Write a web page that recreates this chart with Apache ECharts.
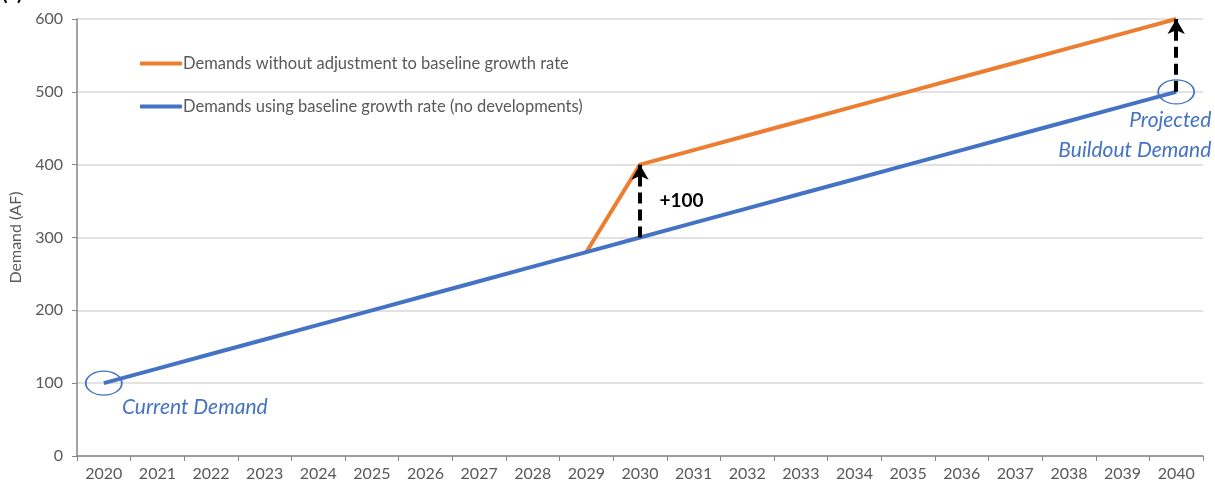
<!DOCTYPE html>
<html><head><meta charset="utf-8">
<script src="https://cdn.jsdelivr.net/npm/echarts@6/dist/echarts.min.js"></script>
<style>html,body{margin:0;padding:0;background:#fff}#c{width:1215px;height:491px}</style>
</head><body><div id="c"></div>
<script>
const years = ['2020','2021','2022','2023','2024','2025','2026','2027','2028','2029','2030','2031','2032','2033','2034','2035','2036','2037','2038','2039','2040'];
const baseline = [100,120,140,160,180,200,220,240,260,280,300,320,340,360,380,400,420,440,460,480,500];
const noAdjust = [null,null,null,null,null,null,null,null,null,280,400,420,440,460,480,500,520,540,560,580,600];
const yTicks = [0,100,200,300,400,500,600];
const seriesNames = ['Demands without adjustment to baseline growth rate','Demands using baseline growth rate (no developments)'];
const arrows = [['2030',300,400],['2040',500,600]];

const FONT = 'Lato, "Open Sans", sans-serif';
const GRAY = '#595959';
const BLUE = '#4472C4', ORANGE = '#ED7D31';

const chart = echarts.init(document.getElementById('c'));
chart.setOption({
  animation: false,
  textStyle: {fontFamily: FONT},
  graphic: [{type:'text', left: 2, top: -16, style:{text:'(a)      Incorrect', font:'bold 20px ' + FONT, fill:'#000'}}],
  grid: {left: 77, right: 12, top: 19, bottom: 35},
  legend: {
    orient: 'vertical', left: 135, top: 50, itemGap: 26,
    itemWidth: 42, itemHeight: 4, icon: 'roundRect',
    textStyle: {color: GRAY, fontSize: 16.5, fontFamily: FONT, padding: [0,0,0,-4]},
    data: seriesNames
  },
  xAxis: {
    type: 'category', data: years, boundaryGap: true,
    axisLine: {lineStyle: {color: '#868686', width: 1.5}},
    axisTick: {show: true, length: 5, alignWithLabel: false, lineStyle: {color: '#868686'}},
    axisLabel: {color: GRAY, fontSize: 16, margin: 10, fontFamily: FONT}
  },
  yAxis: {
    type: 'value', min: 0, max: 600, interval: 100,
    name: 'Demand (AF)', nameLocation: 'middle', nameGap: 52, nameRotate: 90,
    nameTextStyle: {color: GRAY, fontSize: 16, fontFamily: FONT},
    axisLine: {show: true, lineStyle: {color: '#868686', width: 1.5}},
    axisTick: {show: true, length: 5, lineStyle: {color: '#868686'}},
    axisLabel: {color: GRAY, fontSize: 16, margin: 14, fontFamily: FONT,
      formatter: v => yTicks.includes(v) ? String(v) : ''},
    splitLine: {lineStyle: {color: '#d9d9d9', width: 1.5}}
  },
  series: [
    {
      name: seriesNames[0], type: 'line', data: noAdjust, showSymbol: false, symbol: 'none',
      lineStyle: {color: ORANGE, width: 4}, itemStyle: {color: ORANGE}, connectNulls: false
    },
    {
      name: seriesNames[1], type: 'line', data: baseline, showSymbol: false, symbol: 'none',
      lineStyle: {color: BLUE, width: 4}, itemStyle: {color: BLUE},
      markLine: {
        silent: true, symbol: ['none','arrow'], symbolSize: [13, 15],
        lineStyle: {color: '#000', width: 4, type: [11, 6]}, label: {show: false},
        emphasis: {disabled: true},
        data: arrows.map(a => [{coord: [a[0], a[1]]}, {coord: [a[0], a[2]]}])
      },
      markPoint: {
        silent: true,
        data: [
          {coord: ['2020', 100], symbol: 'circle', symbolSize: [36, 24],
           itemStyle: {color: 'rgba(0,0,0,0)', borderColor: BLUE, borderWidth: 1.5},
           label: {show: true, formatter: 'Current Demand', position: [37, 26], align: 'left', verticalAlign: 'top',
             color: BLUE, fontStyle: 'italic', fontSize: 21, fontFamily: FONT}},
          {coord: ['2040', 500], symbol: 'circle', symbolSize: [36, 24],
           itemStyle: {color: 'rgba(0,0,0,0)', borderColor: BLUE, borderWidth: 1.5},
           label: {show: true, formatter: 'Projected\nBuildout Demand', position: [54, 26], align: 'right', verticalAlign: 'top',
             lineHeight: 30, color: BLUE, fontStyle: 'italic', fontSize: 21, fontFamily: FONT}},
          {coord: ['2030', 350], symbol: 'circle', symbolSize: 1,
           itemStyle: {color: 'rgba(0,0,0,0)'},
           label: {show: true, formatter: '+100', position: 'right', distance: 19,
             color: '#000', fontWeight: 'bold', fontSize: 19, fontFamily: FONT}}
        ]
      }
    }
  ]
});
</script></body></html>
